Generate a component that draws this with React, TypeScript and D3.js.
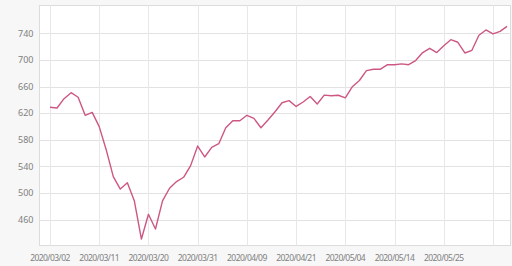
import React from "react";
import * as d3 from "d3";

const dates = [
  "2020/03/02","2020/03/03","2020/03/04","2020/03/05","2020/03/06","2020/03/09","2020/03/10","2020/03/11","2020/03/12","2020/03/13",
  "2020/03/16","2020/03/17","2020/03/18","2020/03/19","2020/03/20","2020/03/23","2020/03/24","2020/03/25","2020/03/26","2020/03/27",
  "2020/03/30","2020/03/31","2020/04/01","2020/04/02","2020/04/03","2020/04/06","2020/04/07","2020/04/08","2020/04/09","2020/04/10",
  "2020/04/13","2020/04/14","2020/04/16","2020/04/17","2020/04/20","2020/04/21","2020/04/22","2020/04/23","2020/04/24","2020/04/27",
  "2020/04/28","2020/04/29","2020/05/04","2020/05/06","2020/05/07","2020/05/08","2020/05/11","2020/05/12","2020/05/13","2020/05/14",
  "2020/05/15","2020/05/18","2020/05/19","2020/05/20","2020/05/21","2020/05/22","2020/05/25","2020/05/26","2020/05/27","2020/05/28",
  "2020/05/29","2020/06/01","2020/06/02","2020/06/03","2020/06/04","2020/06/05",
];

const values = [
  628.7, 627.7, 641.7, 650.7, 643.8, 616.7, 621, 599.6, 564.6, 524.4,
  505.8, 515.3, 487.8, 430.6, 467.8, 445.7, 488, 507, 517, 523.5,
  541, 570.5, 554, 568.5, 574, 598, 608.6, 608.6, 616.7, 612,
  598, 609.6, 622, 635.6, 638.7, 630, 636.7, 645, 633.7, 647,
  646, 646.8, 643, 659.7, 669, 683.8, 686, 686, 692.8, 692.8,
  694, 692.8, 699, 711, 717.4, 711, 721.4, 730.4, 726.5, 710.4,
  714.4, 737, 745, 739, 743, 750.5,
];

const yTicks = [460, 500, 540, 580, 620, 660, 700, 740];
const xTickIdx = [0, 7, 14, 21, 28, 35, 42, 49, 56, 63];
const xLabelIdx = [0, 7, 14, 21, 28, 35, 42, 49, 56];

export default function App() {
  const W = 512, H = 266;
  const left = 39.5, right = 510.5, top = 5.5, bottom = 245.5;
  const x = d3.scaleLinear().domain([0, 63]).range([50, 493]);
  const y = d3.scaleLinear().domain([740, 460]).range([33.3, 219.5]);
  const line = d3.line<number>().x((_, i) => x(i)).y((v) => y(v));
  const font = "'Noto Sans', 'Open Sans', sans-serif";
  return (
    <svg width={W} height={H} style={{ position: "absolute", left: 0, top: 0, background: "#f7f7f7" }}>
      <rect x={0} y={0} width={W} height={H} fill="#f7f7f7" />
      <rect x={left} y={top} width={right - left} height={bottom - top} fill="#ffffff" stroke="#dcdcdc" strokeWidth={1} />
      {yTicks.map((t) => (
        <g key={t}>
          <line x1={left} x2={right} y1={Math.round(y(t)) + 0.5} y2={Math.round(y(t)) + 0.5} stroke="#e2e2e2" strokeWidth={1} />
          <text x={33.5} y={y(t) + 3.3} textAnchor="end" fontSize={9} fill="#808080" fontFamily={font}>{t}</text>
        </g>
      ))}
      {xTickIdx.map((i) => (
        <line key={i} x1={Math.round(x(i)) + 0.5} x2={Math.round(x(i)) + 0.5} y1={top} y2={bottom} stroke="#e8e8e8" strokeWidth={1} />
      ))}
      {xLabelIdx.map((i) => (
        <text key={i} x={x(i)} y={260.5} textAnchor="middle" fontSize={8.5} letterSpacing={-0.55} fill="#808080" fontFamily={font}>{dates[i]}</text>
      ))}
      <path d={line(values) || ""} fill="none" stroke="#cd5783" strokeWidth={1.4} strokeLinejoin="round" />
    </svg>
  );
}
